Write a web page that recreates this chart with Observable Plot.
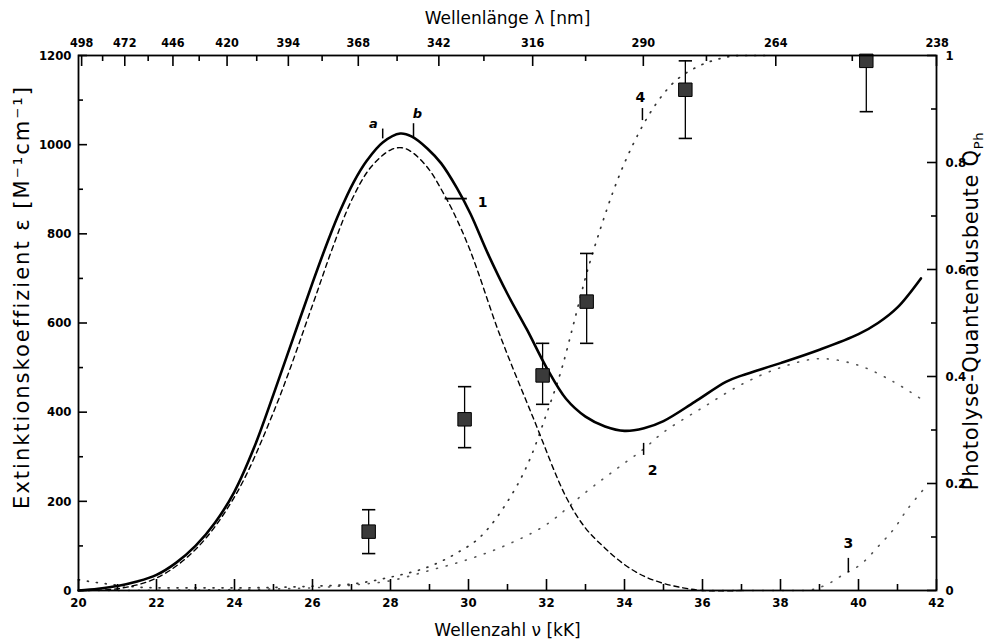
<!DOCTYPE html>
<html><head><meta charset="utf-8">
<script src="https://cdn.jsdelivr.net/npm/d3@7"></script>
<script src="https://cdn.jsdelivr.net/npm/@observablehq/plot@0.6"></script>
<style>body{margin:0;background:#fff}svg{display:block}</style>
</head><body><div id="chart"></div>
<script>
// ---- data ----
// total extinction (solid)
const totalNu  = [20, 20.5, 21, 21.5, 22, 22.5, 23, 23.5, 24, 24.5, 25, 25.5, 26, 26.4, 26.7, 27.05, 27.4, 27.8, 28.25, 28.55, 28.95, 29.3, 29.7, 30.05, 30.5, 31, 31.5, 32, 32.5, 33, 33.5, 34, 34.5, 35, 35.8, 36.6, 37, 38, 39, 40, 40.5, 41, 41.6];
const totalEps = [0, 4, 10, 20, 35, 62, 100, 152, 222, 320, 440, 565, 690, 785, 850, 915, 965, 1005, 1025, 1018, 991, 958, 903, 845, 755, 665, 585, 500, 430, 390, 368, 358, 364, 380, 423, 468, 482, 510, 540, 575, 600, 635, 700];
// band 1 (dashed)
const band1Nu  = [20, 21, 22, 23, 24, 25, 26, 26.5, 27, 27.5, 28, 28.3, 28.6, 29, 29.3, 29.6, 30.05, 30.8, 31.67, 32.5, 33, 33.5, 34, 34.5, 35, 35.5, 36, 37];
const band1Eps = [0, 4, 28, 92, 210, 400, 640, 765, 875, 950, 988, 993, 980, 943, 900, 851, 761, 574, 385, 210, 140, 95, 58, 32, 16, 6, 0, 0];
// band 2 (dotted)
const band2Nu  = [20, 24, 26, 27, 28, 29, 30, 31, 32, 33, 33.8, 34.5, 35, 36, 37, 38, 39, 40, 40.9, 41.6];
const band2Eps = [0, 2, 6, 12, 22, 45, 70, 103, 148, 220, 273, 318, 355, 410, 462, 500, 520, 505, 468, 430];
// band 3 (dotted)
const band3Nu  = [36, 37, 38, 38.8, 39.2, 39.6, 40.05, 40.56, 40.9, 41.25, 41.67];
const band3Eps = [0, 0, 0, 2, 14, 35, 58, 104, 137, 182, 227];
// curve 4: quantum yield (dotted, right axis)
const qCurveNu = [20, 21, 22, 24, 26, 27, 28, 29, 29.7, 30.3, 30.9, 31.6, 32, 32.4, 32.7, 33, 33.4, 33.7, 34.4, 35.2, 35.9, 36.5, 37, 37.6];
const qCurveQ  = [0.02, 0.01, 0.005, 0.005, 0.008, 0.012, 0.025, 0.045, 0.07, 0.1, 0.155, 0.25, 0.33, 0.417, 0.5, 0.585, 0.68, 0.744, 0.86, 0.945, 0.98, 0.995, 1.0, 1.0];
// measured quantum yields with error bars
const measNu = [27.44, 29.9, 31.9, 33.03, 35.56, 40.2];
const measQ  = [0.11, 0.32, 0.402, 0.54, 0.936, 0.99];
const measLo = [0.069, 0.267, 0.348, 0.462, 0.845, 0.895];
const measHi = [0.151, 0.381, 0.462, 0.63, 0.99, 1.0];
// axes
const nuMajor = [20, 22, 24, 26, 28, 30, 32, 34, 36, 38, 40, 42];
const nuMinor = [21, 23, 25, 27, 29, 31, 33, 35, 37, 39, 41];
const epsMajor = [0, 200, 400, 600, 800, 1000, 1200];
const epsMinor = [100, 300, 500, 700, 900, 1100];
const qMajor = [0, 0.2, 0.4, 0.6, 0.8, 1];
const qMinor = [0.1, 0.3, 0.5, 0.7, 0.9];
const lambdaMajor = [498, 472, 446, 420, 394, 368, 342, 316, 290, 264, 238];
const lambdaMinor = [485, 459, 433, 407, 381, 355, 329, 303, 277, 251];
// annotations
const annText = ["a", "b", "1", "4", "2", "3"];
const annNu   = [27.56, 28.69, 30.36, 34.41, 34.72, 39.74];
const annEps  = [1047, 1070, 870, 1106, 269, 105];
const annItalic = [true, true, false, false, false, false];
const markNu  = [27.8, 28.59, 34.46, 34.49, 39.74];
const markLo  = [1013, 1016, 1054, 303, 40];
const markHi  = [1035, 1047, 1081, 330, 72];
const barNu1 = [29.4], barNu2 = [29.97], barEps = [879];

const titleTop = "Wellenlänge λ [nm]";
const titleBottom = "Wellenzahl ν [kK]";
const titleLeft = "Extinktionskoeffizient ε [M⁻¹cm⁻¹]";
const titleRight = "Photolyse-Quantenausbeute Q";

// ---- build ----
const W = 990, H = 641, mT = 55, mR = 54, mB = 51, mL = 78;
const X0 = 20, X1 = 42, Y0 = 0, Y1 = 1200, Q2E = 1200;
const pxX = (X1 - X0) / (W - mL - mR);   // data units per pixel
const pxY = (Y1 - Y0) / (H - mT - mB);

const zip = (xs, ys) => xs.map((x, i) => ({x, y: ys[i]}));
const total = zip(totalNu, totalEps);
const band1 = zip(band1Nu, band1Eps);
const band2 = zip(band2Nu, band2Eps);
const band3 = zip(band3Nu, band3Eps);
const qcurve = zip(qCurveNu, qCurveQ.map(q => q * Q2E));
const meas = measNu.map((x, i) => ({x, q: measQ[i], lo: measLo[i], hi: measHi[i]}));
const ann = annText.map((t, i) => ({t, x: annNu[i], y: annEps[i], it: annItalic[i]}));
const annMarks = markNu.map((x, i) => ({x, y1: markLo[i], y2: markHi[i]}));
const bars = barNu1.map((x1, i) => ({x1, x2: barNu2[i], y: barEps[i]}));

// inward ticks derived from the tick value arrays
const vTicks = [];
nuMajor.forEach(v => vTicks.push({x: v, y1: Y0, y2: Y0 + 11 * pxY}));
nuMinor.forEach(v => vTicks.push({x: v, y1: Y0, y2: Y0 + 6 * pxY}));
lambdaMajor.forEach(l => vTicks.push({x: Math.min(1e4 / l, X1), y1: Y1 - 11 * pxY, y2: Y1}));
lambdaMinor.forEach(l => vTicks.push({x: 1e4 / l, y1: Y1 - 6 * pxY, y2: Y1}));
const hTicks = [];
epsMajor.forEach(v => hTicks.push({y: v, x1: X0, x2: X0 + 9 * pxX}));
epsMinor.forEach(v => hTicks.push({y: v, x1: X0, x2: X0 + 5 * pxX}));
qMajor.forEach(q => hTicks.push({y: q * Q2E, x1: X1 - 9 * pxX, x2: X1}));
qMinor.forEach(q => hTicks.push({y: q * Q2E, x1: X1 - 5 * pxX, x2: X1}));

const hcap = {draw(ctx, size) { const w = Math.sqrt(size) / 2; ctx.moveTo(-w, 0); ctx.lineTo(w, 0); }};

const FONT = "'DejaVu Sans Condensed','Liberation Sans Narrow','DejaVu Sans',sans-serif";
const TFONT = "'DejaVu Sans','Liberation Sans',sans-serif";

const chart = Plot.plot({
  width: W, height: H,
  marginTop: mT, marginRight: mR, marginBottom: mB, marginLeft: mL,
  style: {fontFamily: FONT, background: "white", color: "black"},
  x: {domain: [X0, X1]},
  y: {domain: [Y0, Y1]},
  marks: [
    // tick labels
    Plot.axisX({anchor: "bottom", ticks: nuMajor, tickSize: 0, tickPadding: 7, tickFormat: d => String(d), fontSize: 13, fontWeight: "bold", label: null}),
    Plot.axisX({anchor: "top", ticks: lambdaMajor.map(l => 1e4 / l), tickSize: 0, tickPadding: 9, tickFormat: v => String(Math.round(1e4 / v)), fontSize: 12.5, fontWeight: "bold", label: null}),
    Plot.axisY({anchor: "left", ticks: epsMajor, tickSize: 0, tickPadding: 7, tickFormat: d => String(d), fontSize: 13, fontWeight: "bold", label: null}),
    Plot.axisY({anchor: "right", ticks: qMajor.map(q => q * Q2E), tickSize: 0, tickPadding: 9, tickFormat: v => String(Math.round(v / Q2E * 10) / 10), fontSize: 13, fontWeight: "bold", label: null}),
    // curves
    Plot.line(band2, {x: "x", y: "y", curve: "catmull-rom", stroke: "#555", strokeWidth: 1.6, strokeDasharray: "1,9", strokeLinecap: "round"}),
    Plot.line(band3, {x: "x", y: "y", curve: "catmull-rom", stroke: "#555", strokeWidth: 1.6, strokeDasharray: "1,9", strokeLinecap: "round"}),
    Plot.line(qcurve, {x: "x", y: "y", curve: "monotone-x", stroke: "#333", strokeWidth: 1.7, strokeDasharray: "1,8", strokeLinecap: "round"}),
    Plot.line(band1, {x: "x", y: "y", curve: "catmull-rom", stroke: "black", strokeWidth: 1.4, strokeDasharray: "5,4"}),
    Plot.line(total, {x: "x", y: "y", curve: "catmull-rom", stroke: "black", strokeWidth: 2.6}),
    // error bars and points
    Plot.ruleX(meas, {x: "x", y1: d => d.lo * Q2E, y2: d => d.hi * Q2E, stroke: "black", strokeWidth: 1.3}),
    Plot.dot(meas, {x: "x", y: d => d.lo * Q2E, symbol: hcap, r: 7.5, stroke: "black", strokeWidth: 1.6}),
    Plot.dot(meas, {x: "x", y: d => d.hi * Q2E, symbol: hcap, r: 7.5, stroke: "black", strokeWidth: 1.6}),
    Plot.dot(meas, {x: "x", y: d => d.q * Q2E, symbol: "square", r: 7.6, fill: "#3a3a3a", stroke: "black", strokeWidth: 1}),
    // annotations
    Plot.ruleX(annMarks, {x: "x", y1: "y1", y2: "y2", stroke: "black", strokeWidth: 1.5}),
    Plot.ruleY(bars, {y: "y", x1: "x1", x2: "x2", stroke: "black", strokeWidth: 1.8}),
    Plot.text(ann.filter(d => d.it), {x: "x", y: "y", text: "t", fontSize: 13, fontStyle: "italic", fontWeight: "bold", fontFamily: TFONT}),
    Plot.text(ann.filter(d => !d.it), {x: "x", y: "y", text: "t", fontSize: 14, fontWeight: "bold", fontFamily: TFONT}),
    // inward ticks and frame
    Plot.ruleX(vTicks, {x: "x", y1: "y1", y2: "y2", stroke: "black", strokeWidth: 1.6}),
    Plot.ruleY(hTicks, {y: "y", x1: "x1", x2: "x2", stroke: "black", strokeWidth: 1.6}),
    Plot.frame({stroke: "black", strokeWidth: 1.8, fill: "none"}),
    // titles
    Plot.text([titleTop], {frameAnchor: "top", dy: -37, lineAnchor: "middle", textAnchor: "middle", text: d => d, fontSize: 17, fontFamily: TFONT}),
    Plot.text([titleBottom], {frameAnchor: "bottom", dy: 40, lineAnchor: "middle", textAnchor: "middle", text: d => d, fontSize: 17, fontFamily: TFONT}),
    Plot.text([titleLeft], {frameAnchor: "left", dx: -56, dy: -26, rotate: -90, lineAnchor: "middle", textAnchor: "middle", text: d => d, fontSize: 21, fontFamily: TFONT}),
    Plot.text([titleRight], {frameAnchor: "right", dx: 35, dy: -12, rotate: -90, lineAnchor: "middle", textAnchor: "middle", text: d => d, fontSize: 21, fontFamily: TFONT})
  ]
});

// subscript for Q_Ph, letter spacing for the vertical titles
chart.querySelectorAll("text").forEach(t => {
  if (t.textContent === titleRight) {
    t.setAttribute("letter-spacing", "0.7");
    const ts = document.createElementNS("http://www.w3.org/2000/svg", "tspan");
    ts.setAttribute("font-size", "13");
    ts.setAttribute("dy", "5");
    ts.textContent = "Ph";
    t.appendChild(ts);
  }
  if (t.textContent === titleLeft) t.setAttribute("letter-spacing", "2");
});
document.getElementById("chart").appendChild(chart);
</script>
</body></html>
